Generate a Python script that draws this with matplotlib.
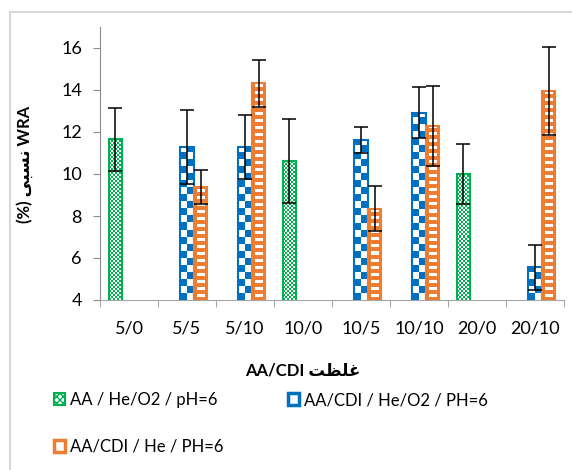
import numpy as np
import matplotlib
matplotlib.use('Agg')
import matplotlib.pyplot as plt
from matplotlib.patches import Rectangle
from matplotlib.lines import Line2D
from matplotlib.colors import to_rgb

plt.rcParams['font.family'] = ['Lato', 'DejaVu Sans']

# data
categories = ['5/0', '5/5', '5/10', '10/0', '10/5', '10/10', '20/0', '20/10']
series_names = ['AA / He/O2 / pH=6', 'AA/CDI / He/O2 / PH=6', 'AA/CDI / He / PH=6']
# None = no bar in that group
aa_heo2 = [11.65, None, None, 10.63, None, None, 10.0, None]
aa_heo2_err = [1.5, None, None, 2.0, None, None, 1.45, None]
cdi_heo2 = [None, 11.29, 11.29, None, 11.63, 12.92, None, 5.56]
cdi_heo2_err = [None, 1.77, 1.53, None, 0.63, 1.2, None, 1.06]
cdi_he = [None, 9.37, 14.32, None, 8.35, 12.29, None, 13.95]
cdi_he_err = [None, 0.82, 1.13, None, 1.08, 1.9, None, 2.1]

colors = ['#00B050', '#0070C0', '#ED7D31']
patterns = ['fine', 'checker', 'dash']
ylim = (4, 17)

fig = plt.figure(figsize=(5.72, 4.70), dpi=100)
ax = fig.add_axes([100/572, 1-300/470, 464/572, 273/470])
ax.set_xlim(-0.5, len(categories) - 0.5)
ax.set_ylim(*ylim)


def pattern_mask(kind, h, w):
    i, j = np.mgrid[0:h, 0:w]
    if kind == 'fine':
        return ((i // 2 + j // 2) % 2) == 0
    if kind == 'checker':
        return ((i // 7 + j // 7) % 2) == 0
    # orange with little white bars
    white = (i % 7 >= 3) & (i % 7 <= 5) & (j >= 3) & (j <= w - 4)
    return ~white


def fill_pattern(rect, kind, color):
    x0 = rect.get_x()
    x1 = x0 + rect.get_width()
    y0 = max(rect.get_y(), ylim[0])
    y1 = rect.get_y() + rect.get_height()
    px0, py0 = ax.transData.transform((x0, y0))
    px1, py1 = ax.transData.transform((x1, y1))
    w = max(int(round(px1 - px0)), 1)
    h = max(int(round(py1 - py0)), 1)
    mask = pattern_mask(kind, h, w)
    rgb = np.where(mask[..., None], np.array(to_rgb(color)), np.ones(3))
    im = ax.imshow(rgb, extent=(x0, x1, y0, y1), origin='lower',
                   interpolation='nearest', aspect='auto', zorder=2)
    im.set_clip_path(rect)


all_vals = [aa_heo2, cdi_heo2, cdi_he]
all_errs = [aa_heo2_err, cdi_heo2_err, cdi_he_err]
width = 0.235
for k, (vals, errs) in enumerate(zip(all_vals, all_errs)):
    idx = [i for i, v in enumerate(vals) if v is not None]
    xs = np.array(idx) + (k - 1) * width
    hs = [vals[i] for i in idx]
    es = [errs[i] for i in idx]
    bars = ax.bar(xs, hs, width=width, facecolor='none', edgecolor=colors[k],
                  linewidth=1.5, zorder=3)
    for r in bars:
        fill_pattern(r, patterns[k], colors[k])
    ax.errorbar(xs, hs, yerr=es, fmt='none', ecolor='black', elinewidth=1.1,
                capsize=4.8, capthick=1.1, zorder=4)

ax.set_xlim(-0.5, len(categories) - 0.5)
ax.set_ylim(*ylim)

# axes styling
for s in ['top', 'right']:
    ax.spines[s].set_visible(False)
ax.spines['left'].set_color('#8C8C8C')
ax.spines['bottom'].set_color('#A6A6A6')
ax.set_yticks(range(4, 17, 2))
ax.tick_params(axis='y', length=5, color='#8C8C8C', labelsize=13, pad=8)
ax.set_xticks(np.arange(-0.5, len(categories), 1.0))
ax.set_xticklabels([])
ax.tick_params(axis='x', which='major', length=5, color='#A6A6A6')
ax.set_xticks(range(len(categories)), minor=True)
ax.set_xticklabels(categories, minor=True)
ax.tick_params(axis='x', which='minor', length=0, labelsize=13, pad=15)

# Persian text written in presentation forms (visual order)
ax.set_xlabel('AA/CDI \uFE96\uFEC8\uFEE0\uFECF', fontsize=12, fontweight='bold')
ax.xaxis.set_label_coords((303 - 100) / 464, -(362 - 300) / 273)
ax.set_ylabel('(%) \uFBFD\uFE92\uFEB4\uFEE7 WRA', fontsize=12, fontweight='bold')
ax.yaxis.set_label_coords(-(100 - 33) / 464, 0.495)

# legend
handles = [
    Rectangle((0, 0), 1, 1, facecolor='white', edgecolor=colors[0], hatch='xxxxx', linewidth=1.5),
    Rectangle((0, 0), 1, 1, facecolor='white', edgecolor=colors[2], linewidth=2.5),
    Rectangle((0, 0), 1, 1, facecolor='white', edgecolor=colors[1], linewidth=2.5),
]
labels = [series_names[0], series_names[2], series_names[1]]
fig.legend(handles, labels, loc='upper left', bbox_to_anchor=(54/572, 1-392/470),
           ncol=2, frameon=False, fontsize=12, handlelength=0.65, handleheight=0.75,
           handletextpad=0.3, labelspacing=1.85, columnspacing=3.9,
           borderpad=0, borderaxespad=0)

# chart area border (light gray)
fig.add_artist(Line2D([10/572, 10/572], [0, 1-12/470], color='#D0D0D0', linewidth=1.2))
fig.add_artist(Line2D([10/572, 1], [1-12/470, 1-12/470], color='#D0D0D0', linewidth=1.2))

fig.savefig('out.png', dpi=100)
